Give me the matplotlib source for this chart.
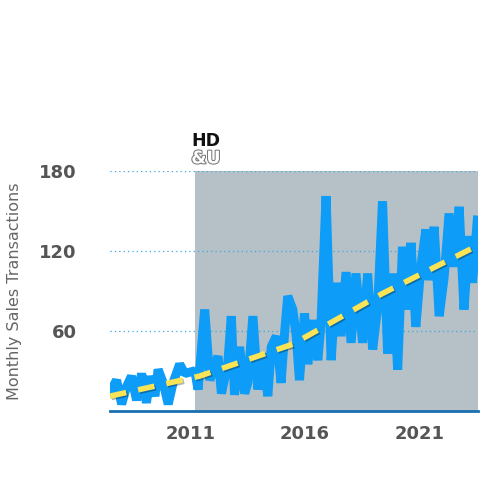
import matplotlib.pyplot as plt
import matplotlib.patheffects as pe

years = [2007.50, 2007.79, 2008.01, 2008.22, 2008.44, 2008.66, 2008.88, 2009.09, 2009.24, 2009.46,
         2009.60, 2009.82, 2010.04, 2010.25, 2010.54, 2010.76, 2011.20, 2011.34, 2011.63, 2011.85,
         2012.21, 2012.36, 2012.64, 2012.79, 2012.93, 2013.15, 2013.37, 2013.51, 2013.73, 2013.95,
         2014.17, 2014.38, 2014.53, 2014.75, 2014.96, 2015.11, 2015.25, 2015.47, 2015.62, 2015.76,
         2015.98, 2016.12, 2016.34, 2016.56, 2016.70, 2016.92, 2017.14, 2017.36, 2017.57, 2017.79,
         2018.01, 2018.22, 2018.51, 2018.73, 2018.95, 2019.17, 2019.38, 2019.60, 2019.82, 2020.04,
         2020.25, 2020.47, 2020.62, 2020.83, 2021.05, 2021.27, 2021.41, 2021.63, 2021.85, 2022.07,
         2022.28, 2022.50, 2022.72, 2022.93, 2023.15, 2023.30, 2023.51]
sales = [14, 23, 5, 18, 26, 8, 28, 6, 26, 11,
         31, 21, 5, 21, 35, 28, 30, 16, 76, 23,
         41, 13, 36, 71, 12, 48, 13, 21, 71, 16,
         43, 11, 48, 56, 21, 58, 86, 76, 56, 23,
         73, 35, 68, 38, 66, 161, 38, 96, 56, 104,
         51, 103, 51, 103, 46, 78, 157, 43, 103, 31,
         123, 76, 126, 63, 108, 136, 98, 138, 71, 101,
         148, 108, 153, 76, 131, 96, 143]

trend_years = [2007.5, 2011.4, 2015.47, 2019.38, 2023.3]
trend_values = [11, 26, 50, 88, 122]

shade_start = 2011.2

fig = plt.figure(figsize=(4.93, 4.95), dpi=100)
ax = fig.add_axes([0.223, 0.170, 0.747, 0.485])

ax.axvspan(shade_start, 2023.55, color='#b5c1c6', lw=0, zorder=0)
ax.plot(years, sales, color='#0d9cf7', lw=6.5, solid_joinstyle='bevel', zorder=2)
ax.plot(trend_years, trend_values, color='#fbe356', lw=4, dashes=(3, 2.2), zorder=3,
        path_effects=[pe.SimpleLineShadow(offset=(1, -1), alpha=0.3), pe.Normal()])

ax.set_xlim(2007.5, 2023.55)
ax.set_ylim(0, 180)
ax.set_yticks([60, 120, 180])
ax.set_xticks([2011, 2016, 2021])
ax.grid(axis='y', color='#3aa6e8', linestyle=(0, (1, 2.5)), lw=0.9, zorder=1)
for s in ['top', 'right', 'left']:
    ax.spines[s].set_visible(False)
ax.spines['bottom'].set_color('#1a6fb0')
ax.spines['bottom'].set_linewidth(2)
ax.tick_params(length=0, labelsize=13, labelcolor='#555555', pad=10)
ax.tick_params(axis='y', pad=24)
for lab in ax.get_xticklabels() + ax.get_yticklabels():
    lab.set_fontweight('bold')
ax.set_ylabel('Monthly Sales Transactions', fontsize=11.5, color='#666666', labelpad=12)

fig.text(0.388, 0.705, 'HD', fontsize=12.5, fontweight='bold', color='#111111')
fig.text(0.388, 0.670, '&U', fontsize=12.5, fontweight='bold', color='white',
         path_effects=[pe.withStroke(linewidth=1.5, foreground='#777777')])

fig.savefig('out.png', dpi=100)
